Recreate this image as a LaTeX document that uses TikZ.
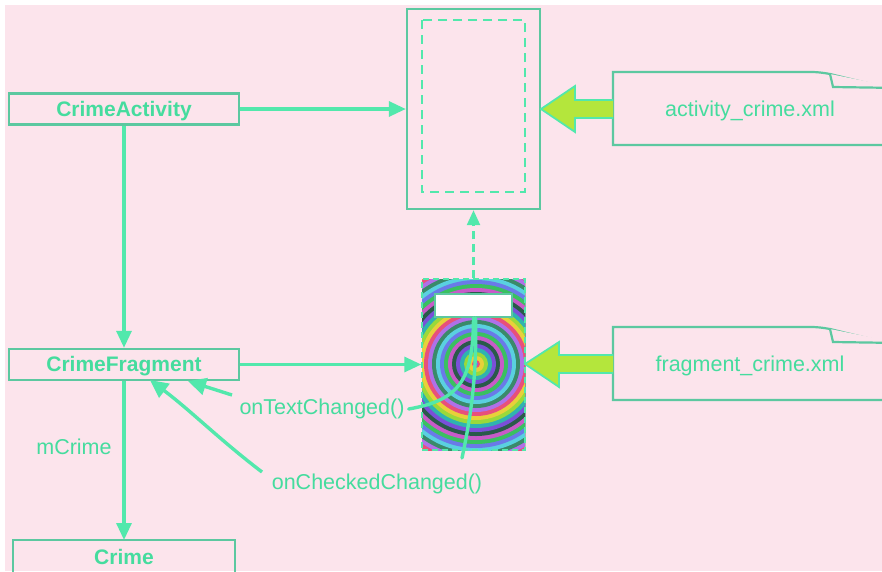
\documentclass[tikz,border=0pt]{standalone}
\usepackage{fontspec}
\setmainfont{Liberation Sans}
\usetikzlibrary{arrows.meta}
\definecolor{bgpink}{HTML}{FCE4EC}
\definecolor{ln}{HTML}{52E8AC}
\definecolor{bx}{HTML}{5CC8A0}
\definecolor{txt}{HTML}{45DC9E}
\definecolor{fatgreen}{HTML}{B4E63C}
% ring palette for the fragment view
\definecolor{r0}{HTML}{7A4FD8}
\definecolor{r1}{HTML}{2FB3B0}
\definecolor{r2}{HTML}{9AD93A}
\definecolor{r3}{HTML}{E8D03A}
\definecolor{r4}{HTML}{E8507A}
\definecolor{r5}{HTML}{B070E8}
\definecolor{r6}{HTML}{3A8A6A}
\definecolor{r7}{HTML}{5AD0E0}
\definecolor{r8}{HTML}{6A7AE8}
\definecolor{r9}{HTML}{3AC060}
\definecolor{r10}{HTML}{C85AC8}
\definecolor{r11}{HTML}{2A5A4A}
\tikzset{
  classbox/.style={draw=bx,line width=2.4pt,minimum width=230pt,minimum height=31pt,inner sep=0pt,
    text height=17pt,text depth=3pt,
    font=\fontsize{21}{24}\selectfont\bfseries,text=txt},
  flow/.style={draw=ln,line width=3.2pt,-{Triangle[length=17pt,width=15pt]}},
  wire/.style={draw=ln,line width=3.4pt,line cap=round},
  lbl/.style={font=\fontsize{21.5}{24}\selectfont,text=txt,inner sep=0pt,yshift=-2pt},
  doc/.style={draw=bx,line width=2.2pt,fill=bgpink},
  fat/.style={draw=ln,line width=1.8pt,fill=fatgreen,line join=miter},
}
\begin{document}
\begin{tikzpicture}[x=1pt,y=-1pt]
\useasboundingbox (0,0) rectangle (882,571);
\clip (0,0) rectangle (882,571);
\fill[white] (0,0) rectangle (882,571);
\fill[bgpink] (5,5) rectangle (882,571);

% class boxes
\node[classbox] (act) at (124,109) {CrimeActivity};
\node[classbox] (frag) at (124,364.5) {CrimeFragment};
\draw[bx,line width=2.4pt] (13,590) |- (235,540) -- (235,590);
\coordinate (crimetop) at (124,540);
\node[font=\fontsize{21}{24}\selectfont\bfseries,text=txt] (crime) at (124,557) {Crime};

% activity layout frame
\node[draw=bx,line width=2.4pt,minimum width=133pt,minimum height=200pt,inner sep=0pt] (actview) at (473.5,109) {};
\draw[ln,line width=2.2pt,dash pattern=on 9pt off 6pt] (422,20) rectangle (525,192);

% fragment view with its widget
\begin{scope}
  \clip (422,279) rectangle (525,450);
  \fill[r0] (422,279) rectangle (525,450);
  \foreach \k in {0,...,28} {
    \pgfmathtruncatemacro{\ci}{mod(\k,12)}
    \fill[r\ci] (476,364) circle ({116-4*\k});
  }
  \fill[r8] (476,364) circle (2);
\end{scope}
\node[draw=ln,line width=1.4pt,dash pattern=on 6pt off 4pt,minimum width=103pt,minimum height=171pt,inner sep=0pt] (fragview) at (473.5,364.5) {};
\node[draw=bx,line width=2.2pt,fill=white,minimum width=77pt,minimum height=23pt,inner sep=0pt] (field) at (473.5,305.5) {};

% layout files
\draw[doc] (900,145) -- (613,145) -- (613,72) -- (810,72) to[out=0,in=170] (830,74) -- (900,91);
\draw[doc] (830,74) -- (833,87) -- (900,88);
\node[lbl] (actxml) at (750,109) {activity\_crime.xml};
\draw[doc] (900,400) -- (613,400) -- (613,327) -- (810,327) to[out=0,in=170] (830,329) -- (900,346);
\draw[doc] (830,329) -- (833,342) -- (900,343);
\node[lbl] (fragxml) at (750,364) {fragment\_crime.xml};

% inflation arrows
\draw[fat] (613,100) -- (575,100) -- (575,86) -- (541,109) -- (575,132) -- (575,118) -- (613,118);
\draw[fat] (613,355) -- (559,355) -- (559,342) -- (525,364) -- (559,387) -- (559,373) -- (613,373);

% connectors
\draw[flow] (act.east) -- (actview.west);
\draw[flow] (act.south) -- (frag.north);
\draw[flow] (frag.east) -- (fragview.west);
\draw[flow] (frag.south) -- (crimetop);
\node[lbl] (mcrime) at (74,445) {mCrime};
\draw[ln,line width=2.4pt,dash pattern=on 8pt off 5pt,-{Triangle[length=15pt,width=13pt]}] (fragview.north) -- (actview.south);

% listener callbacks
\node[lbl] (textcb) at (322,407) {onTextChanged()};
\node[lbl] (checkcb) at (377,482) {onCheckedChanged()};
\draw[wire] (field.south) .. controls (473,380) and (460,400) .. ([xshift=4pt]textcb.east);
\draw[wire] ([xshift=2pt]field.south) .. controls (477,380) and (470,420) .. (462,458);
\draw[ln,line width=3.4pt,-{Triangle[length=18pt,width=17pt]}] (232,395) -- (188,381);
\draw[ln,line width=3.4pt,-{Triangle[length=18pt,width=17pt]}] (262,472) .. controls (220,440) and (190,410) .. (150,380);
\end{tikzpicture}
\end{document}
